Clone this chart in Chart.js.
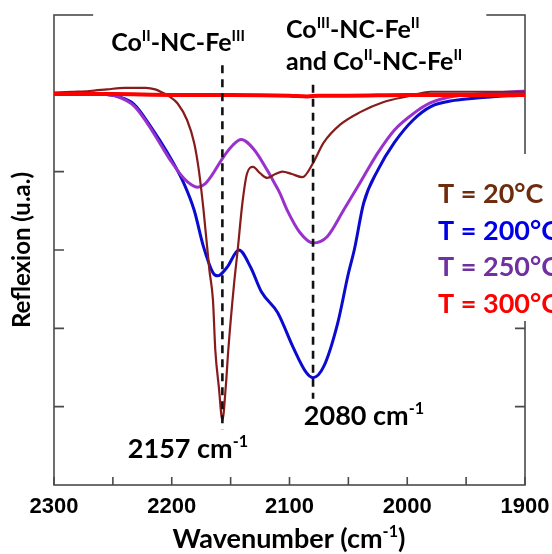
<!DOCTYPE html>
<html>
<head>
<meta charset="utf-8">
<script src="https://cdn.jsdelivr.net/npm/chart.js@4.4.1/dist/chart.umd.min.js"></script>
<style>
  html, body { margin: 0; padding: 0; background: #fff; }
  canvas { display: block; }
</style>
</head>
<body>
<canvas id="chart" width="552" height="554"></canvas>
<script>
(function () {
  'use strict';

  // T = 20 °C
  var wave20 = [2300, 2285, 2270, 2255, 2240, 2222, 2214, 2208, 2202, 2195, 2187, 2181, 2177, 2173, 2168, 2165, 2163, 2160, 2157,
    2154, 2152, 2147, 2144, 2140, 2136, 2131, 2125, 2119, 2112, 2106, 2098, 2089, 2080, 2071, 2057, 2040, 2020, 2000, 1980, 1940, 1900];
  var refl20 = [5.01, 5.02, 5.03, 5.05, 5.07, 5.07, 5.05, 5.01, 4.96, 4.87, 4.66, 4.37, 4.02, 3.51, 2.74, 2.36, 1.72, 1.25, 0.83,
    1.28, 1.72, 2.58, 3.00, 3.60, 3.98, 4.06, 3.98, 3.92, 3.97, 4.00, 3.97, 3.93, 4.11, 4.37, 4.60, 4.76, 4.89, 4.96, 5.02, 5.02, 5.02];

  // T = 200 °C
  var wave200 = [2300, 2270, 2252, 2246, 2232, 2218, 2204, 2190, 2181, 2173, 2165, 2161, 2153, 2143, 2133, 2124,
    2110, 2097, 2086, 2080, 2071, 2059, 2050, 2045, 2037, 2025, 2011, 1995, 1980, 1960, 1941, 1900];
  var refl200 = [4.99, 4.99, 4.98, 4.96, 4.86, 4.58, 4.25, 3.86, 3.51, 3.04, 2.71, 2.67, 2.78, 3.00, 2.78, 2.47,
    2.20, 1.76, 1.44, 1.37, 1.51, 2.07, 2.70, 3.00, 3.60, 4.02, 4.37, 4.66, 4.83, 4.91, 4.94, 4.98];

  // T = 250 °C
  var wave250 = [2300, 2270, 2252, 2246, 2232, 2220, 2210, 2200, 2190, 2183, 2178, 2172, 2167, 2156, 2148, 2141,
    2130, 2119, 2113, 2108, 2102, 2091, 2080, 2068, 2054, 2040, 2025, 2011, 1994, 1980, 1965, 1930, 1900];
  var refl250 = [4.99, 4.99, 4.98, 4.96, 4.84, 4.60, 4.36, 4.12, 3.92, 3.83, 3.80, 3.84, 3.93, 4.19, 4.34, 4.41,
    4.28, 4.02, 3.86, 3.72, 3.51, 3.22, 3.09, 3.17, 3.51, 3.86, 4.24, 4.53, 4.75, 4.88, 4.95, 5.00, 5.03];

  // T = 300 °C
  var wave300 = [2300, 2250, 2200, 2150, 2100, 2085, 2075, 2050, 2000, 1950, 1900];
  var refl300 = [4.99, 4.99, 4.98, 4.98, 4.97, 4.96, 4.97, 4.97, 4.98, 4.98, 4.98];

  // dashed peak markers
  var peakWave = [2157, 2080];
  var peakTop = [5.36, 5.11];
  var peakBottom = [0.71, 1.10];

  var xTickLabels = ['2300', '2200', '2100', '2000', '1900'];
  var yTickValues = [1, 2, 3, 4, 5];
  var legendLabels = ['T = 20°C', 'T = 200°C', 'T = 250°C', 'T = 300°C'];
  var legendColors = ['#6e2c0e', '#0000e6', '#7030a0', '#ff0000'];

  var FONT = 'Lato, "Open Sans", sans-serif';

  function pts(xs, ys) {
    return xs.map(function (x, i) { return { x: x, y: ys[i] }; });
  }

  function curve(label, xs, ys, color, width) {
    return {
      label: label,
      data: pts(xs, ys),
      borderColor: color,
      borderWidth: width,
      cubicInterpolationMode: 'monotone',
      pointRadius: 0,
      fill: false
    };
  }

  function marker(i) {
    return {
      label: 'peak ' + peakWave[i],
      data: [{ x: peakWave[i], y: peakTop[i] }, { x: peakWave[i], y: peakBottom[i] }],
      borderColor: '#111',
      borderWidth: 2.6,
      borderDash: [8, 6],
      pointRadius: 0,
      tension: 0
    };
  }

  // text made of runs, some of them superscript
  function runsWidth(ctx, runs, size) {
    var w = 0;
    runs.forEach(function (r) {
      ctx.font = 'bold ' + (r[1] ? size * 0.6 : size) + 'px ' + FONT;
      w += ctx.measureText(r[0]).width;
    });
    return w;
  }

  function drawRuns(ctx, runs, x, y, size, color, align) {
    var w = runsWidth(ctx, runs, size);
    var cx = align === 'center' ? x - w / 2 : x;
    ctx.fillStyle = color;
    ctx.textAlign = 'left';
    ctx.textBaseline = 'alphabetic';
    runs.forEach(function (r) {
      var s = r[1] ? size * 0.6 : size;
      ctx.font = 'bold ' + s + 'px ' + FONT;
      ctx.fillText(r[0], cx, r[1] ? y - size * 0.4 : y);
      cx += ctx.measureText(r[0]).width;
    });
    return w;
  }

  // white box behind a block of lines (hides the frame like in the original)
  function whiteBox(ctx, lines, x, baselines, size, align, pad) {
    var maxW = 0;
    lines.forEach(function (l) { maxW = Math.max(maxW, runsWidth(ctx, l, size)); });
    var left = align === 'center' ? x - maxW / 2 : x;
    var top = baselines[0] - size - 22;
    var bottom = baselines[baselines.length - 1] + 8;
    ctx.fillStyle = '#fff';
    ctx.fillRect(left - pad[0], top, maxW + pad[0] + pad[1], bottom - top);
  }

  var annotations = [
    { lines: [[['Co'], ['II', 1], ['-NC-Fe'], ['III', 1]]], x: 178, y: [51], size: 25, align: 'center', box: [18, 22] },
    { lines: [[['Co'], ['III', 1], ['-NC-Fe'], ['II', 1]], [['and Co'], ['II', 1], ['-NC-Fe'], ['II', 1]]],
      x: 286, y: [38, 70], size: 25, align: 'left', box: [22, 24] },
    { lines: [[['2157 cm'], ['-1', 1]]], x: 188, y: [458], size: 27, align: 'center' },
    { lines: [[['2080 cm'], ['-1', 1]]], x: 364, y: [425], size: 27, align: 'center' },
    { lines: [[['Wavenumber (cm'], ['-1', 1], [')']]], x: 289, y: [548], size: 27, align: 'center' }
  ];

  var framePlugin = {
    id: 'frame',
    beforeDatasetsDraw: function (chart) {
      var ctx = chart.ctx;
      var a = chart.chartArea;
      var xs = chart.scales.x;
      var ys = chart.scales.y;
      ctx.save();
      ctx.strokeStyle = '#4a4a4a';
      ctx.lineWidth = 1.6;
      ctx.strokeRect(a.left, a.top, a.right - a.left, a.bottom - a.top);
      ctx.beginPath();
      xs.ticks.forEach(function (t) {
        var px = xs.getPixelForValue(t.value);
        ctx.moveTo(px, a.bottom);
        ctx.lineTo(px, a.bottom - 8);
      });
      yTickValues.forEach(function (v) {
        var py = ys.getPixelForValue(v);
        ctx.moveTo(a.left, py);
        ctx.lineTo(a.left + 10, py);
        ctx.moveTo(a.right, py);
        ctx.lineTo(a.right - 10, py);
      });
      ctx.stroke();
      ctx.restore();
    },
    afterDatasetsDraw: function (chart) {
      var ctx = chart.ctx;
      var ys = chart.scales.y;
      ctx.save();
      annotations.forEach(function (an) {
        if (an.box) whiteBox(ctx, an.lines, an.x, an.y, an.size, an.align, an.box);
      });
      annotations.forEach(function (an) {
        an.lines.forEach(function (l, i) {
          drawRuns(ctx, l, an.x, an.y[i], an.size, '#000', an.align);
        });
      });

      // legend block
      var legBase = [203, 240, 276, 313];
      var legRuns = legendLabels.map(function (s) { return [[s]]; });
      whiteBox(ctx, legRuns, 438, legBase, 27, 'left', [18, 40]);
      legendLabels.forEach(function (s, i) {
        drawRuns(ctx, [[s]], 438, legBase[i], 27, legendColors[i], 'left');
      });

      // y axis title
      ctx.translate(30, (ys.top + ys.bottom) / 2);
      ctx.rotate(-Math.PI / 2);
      drawRuns(ctx, [['Reflexion (u.a.)']], 0, 0, 24, '#000', 'center');
      ctx.restore();
    }
  };

  new Chart(document.getElementById('chart').getContext('2d'), {
    type: 'line',
    data: {
      datasets: [
        marker(0),
        marker(1),
        curve(legendLabels[3], wave300, refl300, '#ff0000', 4),
        curve(legendLabels[0], wave20, refl20, '#861c1c', 2.2),
        curve(legendLabels[2], wave250, refl250, '#9932cc', 3),
        curve(legendLabels[1], wave200, refl200, '#0b0bd0', 3)
      ]
    },
    options: {
      responsive: false,
      animation: false,
      devicePixelRatio: 1,
      layout: { padding: { left: 54, right: 27, top: 15, bottom: 0 } },
      plugins: { legend: { display: false }, tooltip: { enabled: false } },
      scales: {
        x: {
          type: 'linear',
          reverse: true,
          min: 1900,
          max: 2300,
          grid: { display: false, drawTicks: false },
          border: { display: false },
          ticks: {
            stepSize: 50,
            autoSkip: false,
            maxRotation: 0,
            padding: 9,
            color: '#000',
            font: { family: '"Liberation Sans", Arial, sans-serif', weight: 'bold', size: 22 },
            callback: function (v) {
              return xTickLabels.indexOf(String(v)) >= 0 ? String(v) : '';
            }
          },
          afterFit: function (scale) {
            scale.height = 69;
            scale.paddingLeft = 0;
            scale.paddingRight = 0;
          }
        },
        y: { display: false, min: 0, max: 6 }
      }
    },
    plugins: [framePlugin]
  });
})();
</script>
</body>
</html>
